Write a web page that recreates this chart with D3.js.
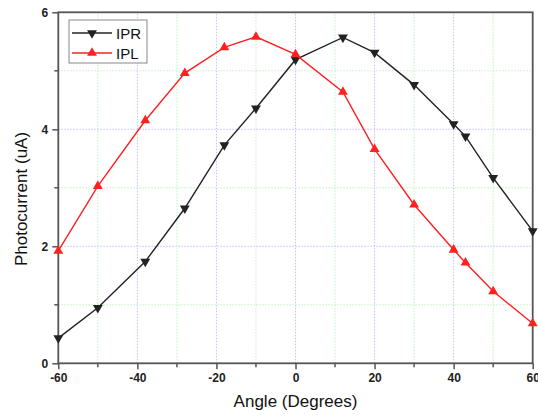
<!DOCTYPE html>
<html>
<head>
<meta charset="utf-8">
<script src="https://cdn.jsdelivr.net/npm/d3@7"></script>
<style>
  body { margin: 0; background: #fff; }
  svg { display: block; font-family: "Liberation Sans", Arial, sans-serif; }
</style>
</head>
<body>
<div id="chart"></div>
<script>
const iprAngles = [-60, -50, -38, -28, -18, -10, 0, 12, 20, 30, 40, 43, 50, 60];
const iprValues = [0.43, 0.95, 1.74, 2.65, 3.73, 4.36, 5.19, 5.57, 5.31, 4.76, 4.09, 3.88, 3.17, 2.26];
const iplAngles = [-60, -50, -38, -28, -18, -10, 0, 12, 20, 30, 40, 43, 50, 60];
const iplValues = [1.92, 3.03, 4.15, 4.96, 5.40, 5.58, 5.28, 4.64, 3.66, 2.71, 1.94, 1.72, 1.23, 0.68];
const xTicks = [-60, -40, -20, 0, 20, 40, 60];
const yTicks = [0, 2, 4, 6];

const width = 538;
const height = 415;
const margin = { top: 12.3, right: 5.3, bottom: 51.7, left: 58.3 };

const svg = d3.select("#chart").append("svg")
  .attr("width", width)
  .attr("height", height);

const x = d3.scaleLinear()
  .domain([-60, 60])
  .range([margin.left, width - margin.right]);

const y = d3.scaleLinear()
  .domain([0, 6])
  .range([height - margin.bottom, margin.top]);

// grid: blue at majors, green at minors
const grid = svg.append("g");
d3.range(-50, 60, 10).forEach((v) => {
  grid.append("line")
    .attr("x1", x(v)).attr("x2", x(v))
    .attr("y1", y(0)).attr("y2", y(6))
    .attr("stroke", v % 20 === 0 ? "#c0c0ff" : "#c0f0c0")
    .attr("stroke-width", 1)
    .attr("stroke-dasharray", "1.5,1.5");
});
d3.range(1, 6).forEach((v) => {
  grid.append("line")
    .attr("x1", x(-60)).attr("x2", x(60))
    .attr("y1", y(v)).attr("y2", y(v))
    .attr("stroke", v % 2 === 0 ? "#c0c0ff" : "#c0f0c0")
    .attr("stroke-width", 1)
    .attr("stroke-dasharray", "1.5,1.5");
});

// axes
const axisColor = "#555";
const fmt = (d) => String(d);
const xAxis = svg.append("g")
  .attr("transform", `translate(0,${y(0)})`)
  .call(d3.axisBottom(x).tickValues(xTicks).tickFormat(fmt).tickSize(6).tickPadding(4).tickSizeOuter(0));
const yAxis = svg.append("g")
  .attr("transform", `translate(${x(-60)},0)`)
  .call(d3.axisLeft(y).tickValues(yTicks).tickFormat(fmt).tickSize(6).tickPadding(4).tickSizeOuter(0));

[xAxis, yAxis].forEach((g) => {
  g.select(".domain").remove();
  g.selectAll(".tick line").attr("stroke", axisColor).attr("stroke-width", 1.5);
  g.selectAll(".tick text")
    .attr("fill", "#222")
    .style("font-size", "12px")
    .style("font-weight", "bold");
});

// minor ticks
d3.range(-50, 60, 20).forEach((v) => {
  svg.append("line")
    .attr("x1", x(v)).attr("x2", x(v))
    .attr("y1", y(0)).attr("y2", y(0) + 4)
    .attr("stroke", axisColor).attr("stroke-width", 1.5);
});
[1, 3, 5].forEach((v) => {
  svg.append("line")
    .attr("x1", x(-60) - 4).attr("x2", x(-60))
    .attr("y1", y(v)).attr("y2", y(v))
    .attr("stroke", axisColor).attr("stroke-width", 1.5);
});

// frame
svg.append("rect")
  .attr("x", x(-60)).attr("y", y(6))
  .attr("width", x(60) - x(-60))
  .attr("height", y(0) - y(6))
  .attr("fill", "none")
  .attr("stroke", axisColor)
  .attr("stroke-width", 1.8);

// series
const series = [
  { name: "IPR", angles: iprAngles, values: iprValues, color: "#222", symbol: "down" },
  { name: "IPL", angles: iplAngles, values: iplValues, color: "#ff2020", symbol: "up" }
];

const line = d3.line()
  .x((d) => x(d[0]))
  .y((d) => y(d[1]));

const tri = d3.symbol().type(d3.symbolTriangle).size(42);

series.forEach((s) => {
  const pts = s.angles.map((a, i) => [a, s.values[i]]);
  svg.append("path")
    .datum(pts)
    .attr("fill", "none")
    .attr("stroke", s.color)
    .attr("stroke-width", 1.4)
    .attr("d", line);
  svg.selectAll(null)
    .data(pts)
    .enter()
    .append("path")
    .attr("d", tri)
    .attr("fill", s.color)
    .attr("transform", (d) => `translate(${x(d[0])},${y(d[1])}) rotate(${s.symbol === "down" ? 180 : 0})`);
});

// legend
const legend = svg.append("g").attr("transform", "translate(69,20)");
legend.append("rect")
  .attr("width", 78).attr("height", 43)
  .attr("fill", "#fff")
  .attr("stroke", "#888")
  .attr("stroke-width", 1);
series.forEach((s, i) => {
  const ly = 13 + i * 20;
  legend.append("line")
    .attr("x1", 3).attr("x2", 43)
    .attr("y1", ly).attr("y2", ly)
    .attr("stroke", s.color)
    .attr("stroke-width", 1.4);
  legend.append("path")
    .attr("d", tri)
    .attr("fill", s.color)
    .attr("transform", `translate(23,${ly}) rotate(${s.symbol === "down" ? 180 : 0})`);
  legend.append("text")
    .attr("x", 47).attr("y", ly + 5.5)
    .attr("fill", "#111")
    .style("font-size", "15px")
    .text(s.name);
});

// titles
svg.append("text")
  .attr("x", (x(-60) + x(60)) / 2)
  .attr("y", 407)
  .attr("text-anchor", "middle")
  .attr("fill", "#111")
  .style("font-size", "17px")
  .text("Angle (Degrees)");

svg.append("text")
  .attr("transform", "translate(27,199) rotate(-90)")
  .attr("text-anchor", "middle")
  .attr("fill", "#111")
  .style("font-size", "17px")
  .text("Photocurrent (uA)");
</script>
</body>
</html>
